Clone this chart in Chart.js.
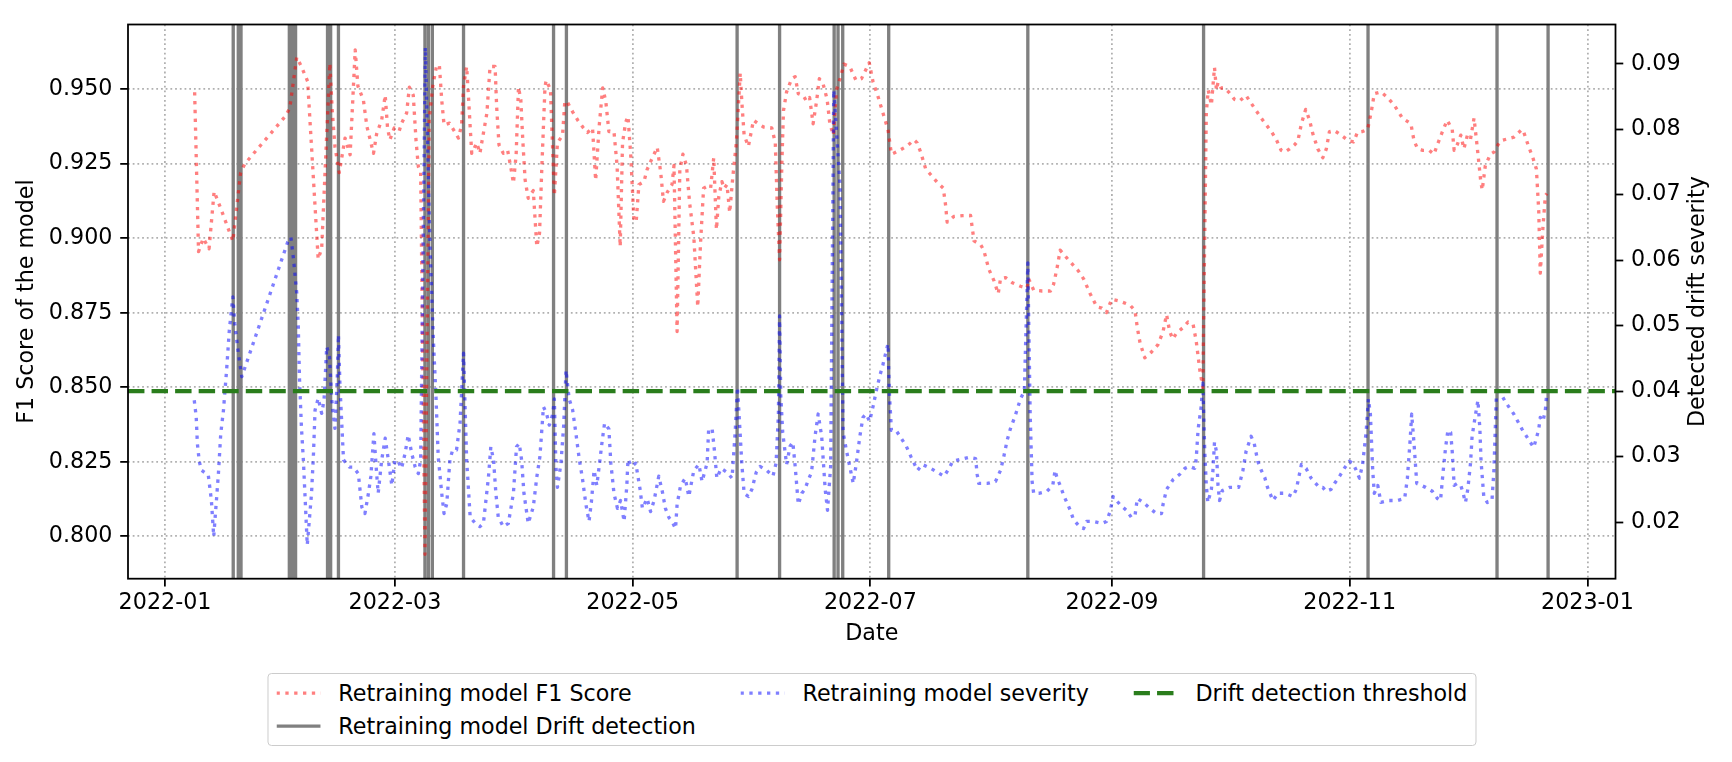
<!DOCTYPE html>
<html>
<head>
<meta charset="utf-8">
<script src="https://cdn.jsdelivr.net/npm/chart.js@4.4.0/dist/chart.umd.min.js"></script>
<style>
  body { margin: 0; background: #fff; }
  #wrap { position: relative; width: 1732px; height: 762px; font-family: 'DejaVu Sans', sans-serif; }
  #legend {
    position: absolute; top: 673px; left: 871.75px; transform: translateX(-50%);
    box-sizing: border-box; padding: 7.9px 7.9px 7.9px 7.9px;
    border: 1px solid #cccccc; border-radius: 4px; background: #fff;
    display: grid; grid-template-columns: repeat(3, auto); column-gap: 44.4px; row-gap: 11.1px;
    font-size: 22.2px; line-height: 22.2px; color: #000; white-space: nowrap;
  }
  #legend .item { display: flex; align-items: center; height: 22.2px; }
  #legend svg { flex: none; margin-right: 17.8px; }
</style>
</head>
<body>
<div id="wrap">
  <canvas id="chart" width="1732" height="762"></canvas>
  <div id="legend"></div>
</div>
<script>
// --- data (x = days since 2022-01-01) ---
const START = '2022-01-01';
const xTickLabels = ['2022-01', '2022-03', '2022-05', '2022-07', '2022-09', '2022-11', '2023-01'];
const f1Ticks = [0.800, 0.825, 0.850, 0.875, 0.900, 0.925, 0.950];
const sevTicks = [0.02, 0.03, 0.04, 0.05, 0.06, 0.07, 0.08, 0.09];
const threshold = 0.04;

// days where the retraining model flagged a drift
const driftDays = [17.5, 18.8, 19.5, 31.9, 32.7, 33.5, 41.7, 42.5, 44.5, 66.7, 67.6, 68.6, 76.6,
  99.7, 103.0, 146.8, 157.7, 171.7, 172.7, 173.9, 185.7, 221.4, 266.5, 308.7, 341.8, 354.9];

const f1Days = [7.6, 8.6, 9.8, 11.3, 12.6, 14.3, 16.0, 17.4, 19.4, 20.5, 30.8, 32.0, 33.8, 35.0, 36.6,
  39.3, 40.2, 42.3, 42.9, 43.6, 44.7, 46.2, 47.5, 48.8, 49.5, 50.9, 51.8, 53.5, 54.3, 55.6, 56.5,
  57.1, 57.7, 58.8, 60.1, 60.7, 62.0, 62.7, 63.7, 64.4, 65.0, 65.6, 66.7, 67.8, 68.7, 69.7, 70.4,
  71.0, 71.6, 73.0, 74.2, 75.3, 76.1, 76.6, 77.4, 77.8, 78.4, 78.7, 80.0, 80.8, 82.6, 83.4, 84.7,
  85.1, 85.7, 86.8, 87.9, 88.7, 89.4, 90.1, 90.7, 91.3, 91.8, 92.4, 93.2, 94.5, 95.4, 96.1, 96.7,
  97.5, 97.8, 98.9, 99.9, 100.7, 102.0, 102.6, 103.3, 104.6, 105.9, 107.2, 108.4, 109.7, 110.5,
  111.4, 112.3, 113.1, 113.9, 115.2, 116.0, 116.8, 117.4, 118.2, 118.8, 119.5, 120.3, 120.9, 121.6,
  122.9, 123.7, 124.6, 126.3, 127.2, 127.9, 128.9, 130.1, 130.6, 131.4, 132.1, 132.9, 133.8, 134.6,
  135.7, 136.7, 137.4, 138.2, 139.1, 140.0, 140.8, 141.5, 142.1, 142.9, 143.5, 144.2, 144.9, 145.7,
  146.6, 147.6, 148.0, 148.6, 149.7, 151.0, 152.3, 153.6, 155.7, 156.6, 157.1, 157.7, 158.3, 158.7,
  159.5, 160.8, 161.7, 162.5, 163.8, 164.6, 165.4, 166.3, 167.2, 167.9, 168.9, 169.9, 170.6, 171.5,
  172.3, 173.2, 174.2, 175.7, 177.3, 178.7, 180.7, 181.7, 182.9, 184.2, 185.5, 186.4, 187.6, 188.5,
  190.5, 192.2, 193.0, 193.9, 195.2, 196.5, 198.2, 199.7, 200.3, 200.7, 202.4, 204.6, 206.7, 207.6,
  209.3, 210.1, 211.4, 212.7, 213.8, 214.4, 215.7, 217.4, 219.5, 221.2, 221.6, 222.9, 225.0, 227.2,
  228.0, 228.9, 229.7, 231.4, 232.7, 234.4, 235.7, 237.4, 239.1, 240.4, 241.6, 242.9, 245.0, 247.6,
  248.9, 249.5, 250.2, 251.4, 253.1, 254.8, 256.1, 257.0, 257.8, 258.6, 259.5, 261.2, 262.5, 263.8,
  264.6, 265.5, 266.3, 267.2, 267.7, 268.5, 269.3, 269.8, 270.2, 271.0, 271.9, 273.2, 274.4, 275.7,
  277.4, 278.7, 280.0, 281.3, 282.6, 283.9, 285.2, 286.4, 287.3, 288.6, 289.9, 290.7, 291.6, 292.7,
  293.7, 294.5, 295.8, 297.1, 298.0, 298.8, 300.1, 301.8, 303.7, 305.0, 306.0, 307.3, 308.6, 309.5,
  310.3, 312.0, 313.7, 315.4, 317.5, 319.7, 320.5, 321.4, 322.7, 324.4, 325.6, 326.5, 327.8, 329.0,
  330.3, 330.8, 331.6, 332.5, 333.3, 334.2, 335.0, 335.9, 336.7, 337.6, 338.0, 338.8, 339.7, 340.1,
  341.0, 341.8, 342.7, 344.4, 346.1, 348.2, 348.6, 349.9, 351.0, 351.9, 352.5, 352.9, 353.6, 354.2,
  354.6];
const f1Values = [0.949, 0.8955, 0.900, 0.8965, 0.9157, 0.910, 0.904, 0.899, 0.922, 0.925, 0.9408, 0.9436, 0.9607, 0.9576, 0.9526,
  0.893, 0.8966, 0.9587, 0.943, 0.9308, 0.922, 0.9336, 0.928, 0.9632, 0.951, 0.9464, 0.9375, 0.9285, 0.935, 0.9397, 0.948,
  0.937, 0.933, 0.937, 0.936, 0.9386, 0.942, 0.9507, 0.948, 0.933, 0.924, 0.922, 0.794, 0.940, 0.951, 0.958, 0.958,
  0.9464, 0.938, 0.9386, 0.936, 0.9336, 0.938, 0.951, 0.9576, 0.949, 0.9352, 0.9285, 0.932, 0.9285, 0.942, 0.9576, 0.9576,
  0.944, 0.9313, 0.9285, 0.9296, 0.924, 0.9185, 0.928, 0.9507, 0.9464, 0.933, 0.9196, 0.9134, 0.916, 0.8972, 0.9017, 0.924,
  0.9507, 0.953, 0.950, 0.9143, 0.932, 0.9345, 0.946, 0.9455, 0.9424, 0.9396, 0.9373, 0.9355, 0.937, 0.9194,
  0.9375, 0.9504, 0.946, 0.9358, 0.9358, 0.9244, 0.8972, 0.932, 0.9389, 0.9409, 0.928, 0.9067, 0.9054, 0.918,
  0.919, 0.923, 0.9257, 0.9305, 0.922, 0.9124, 0.9155, 0.918, 0.9244, 0.8687, 0.923, 0.9282, 0.9245, 0.912,
  0.9003, 0.877, 0.898, 0.9168, 0.9174, 0.9168, 0.927, 0.9029, 0.914, 0.919, 0.9167, 0.918, 0.9086, 0.9206,
  0.932, 0.9554, 0.946, 0.9346, 0.9308, 0.9396, 0.9383, 0.9373, 0.937, 0.932, 0.911, 0.8928, 0.9258, 0.9428,
  0.9491, 0.9535, 0.9542, 0.9485, 0.9478, 0.946, 0.9472, 0.9384, 0.946, 0.9535, 0.9516, 0.9466, 0.9384, 0.9346,
  0.9497, 0.9535, 0.9584, 0.9576, 0.953, 0.9535, 0.9589, 0.9523, 0.9478, 0.9421, 0.9365, 0.9282, 0.9289, 0.9295,
  0.931, 0.933, 0.932, 0.9289, 0.9232, 0.9213, 0.9187, 0.9168, 0.9111, 0.9054, 0.9073, 0.9076, 0.9077, 0.8991,
  0.8978, 0.896, 0.8896, 0.8858, 0.8814, 0.8865, 0.8868, 0.8851, 0.8839, 0.8833, 0.8864, 0.8826, 0.8823, 0.8823,
  0.8845, 0.890, 0.896, 0.8934, 0.8915, 0.889, 0.8864, 0.8814, 0.877, 0.8766, 0.8751, 0.8795, 0.8789, 0.8776,
  0.8757, 0.870, 0.8649, 0.8599, 0.8618, 0.8643, 0.8687, 0.8744, 0.8687, 0.8662, 0.8681, 0.870, 0.8719, 0.8712,
  0.8656, 0.8561, 0.8498, 0.9422, 0.9497, 0.9447, 0.9573, 0.9497, 0.9523, 0.9504, 0.9504, 0.9487, 0.9466, 0.946,
  0.9479, 0.9453, 0.9428, 0.9403, 0.938, 0.9358, 0.933, 0.9295, 0.9289, 0.930, 0.9314, 0.9327, 0.9384, 0.9432,
  0.9396, 0.9352, 0.930, 0.927, 0.930, 0.9358, 0.9361, 0.9346, 0.9327, 0.9323, 0.9356, 0.9358, 0.9365, 0.9422,
  0.9485, 0.9491, 0.9472, 0.9447, 0.9403, 0.9384, 0.9327, 0.9301, 0.9295, 0.9295, 0.9282, 0.9314, 0.9358, 0.9396,
  0.9365, 0.9295, 0.9314, 0.9346, 0.930, 0.9346, 0.9333, 0.9403, 0.9308, 0.9194, 0.9162, 0.9244, 0.927, 0.9282,
  0.9289, 0.9308, 0.9327, 0.9333, 0.9339, 0.9365, 0.9358, 0.9308, 0.927, 0.9232, 0.9093, 0.8883, 0.9041, 0.9143,
  0.915];

const sevDays = [7.5, 8.0, 8.3, 8.8, 9.4, 11.1, 11.9, 12.5, 13.7, 14.3, 15.0, 15.8, 16.5, 17.4, 17.9, 18.8, 19.7,
  31.5, 32.3, 33.0, 33.8, 34.2, 34.5, 35.0, 35.5, 36.5, 37.6, 38.1, 38.5, 39.3, 40.2, 40.8, 41.5, 42.2,
  42.8, 43.6, 44.2, 44.5, 44.9, 45.8, 47.3, 48.3, 49.6, 50.5, 51.3, 52.2, 52.8, 53.6, 54.3, 54.7, 55.6,
  56.5, 57.3, 58.2, 59.0, 59.9, 60.7, 61.6, 62.4, 63.3, 64.2, 65.0, 65.6, 66.8, 68.0, 68.9, 69.5, 70.1,
  71.0, 71.6, 72.3, 73.1, 73.8, 74.8, 75.7, 76.6, 76.9, 77.4, 78.3, 79.6, 80.8, 81.7, 83.0, 83.6, 84.3,
  84.9, 85.5, 86.8, 88.1, 89.4, 90.2, 90.9, 91.5, 92.1, 93.2, 94.5, 95.4, 96.2, 97.1, 97.9, 98.6, 99.5,
  99.9, 100.3, 100.7, 101.6, 102.3, 102.9, 103.7, 104.6, 105.4, 106.3, 107.1, 108.0, 108.8, 109.4, 110.1,
  110.8, 111.4, 112.2, 112.8, 113.9, 114.4, 115.2, 116.1, 116.9, 117.8, 118.5, 118.8, 119.7, 120.8, 121.9,
  122.5, 123.7, 124.6, 125.5, 126.7, 127.6, 128.4, 129.3, 130.1, 131.0, 131.4, 132.3, 133.5, 134.4, 135.7,
  137.0, 137.8, 139.1, 139.5, 140.4, 141.0, 141.6, 142.7, 144.2, 145.5, 146.3, 146.9, 147.4, 148.0, 148.6,
  149.7, 150.6, 151.7, 152.7, 154.4, 156.0, 156.8, 157.4, 157.7, 158.0, 158.5, 159.5, 160.4, 161.1, 161.7,
  162.5, 163.4, 164.2, 165.1, 165.9, 166.8, 167.6, 168.5, 169.4, 170.0, 170.8, 171.6, 173.2, 174.0, 174.9,
  175.7, 176.6, 177.4, 178.3, 179.1, 179.9, 180.8, 181.7, 182.5, 183.4, 184.2, 185.5, 185.9, 186.4, 187.6,
  188.9, 190.2, 191.4, 192.2, 193.1, 194.3, 196.5, 198.2, 199.9, 201.2, 202.1, 204.2, 206.3, 208.0, 208.4,
  208.8, 211.0, 213.1, 214.4, 215.2, 216.1, 216.9, 218.2, 219.5, 220.5, 221.4, 222.0, 222.5, 222.9, 224.2,
  226.3, 227.8, 228.4, 228.9, 229.7, 230.6, 231.4, 232.3, 233.1, 234.4, 235.7, 236.5, 238.2, 240.4, 241.6,
  242.5, 243.3, 245.0, 246.7, 248.0, 248.9, 249.5, 251.0, 252.7, 254.4, 255.7, 256.1, 257.0, 258.7, 260.4,
  261.7, 262.9, 264.2, 264.6, 265.1, 265.9, 266.3, 266.8, 267.2, 267.6, 268.5, 268.9, 269.3, 269.8, 270.2,
  270.6, 271.3, 273.2, 275.5, 276.6, 277.4, 278.7, 279.5, 280.4, 281.3, 282.2, 282.9, 284.3, 285.6, 287.3,
  289.4, 290.3, 291.6, 292.8, 294.1, 296.2, 297.1, 297.9, 299.2, 300.1, 301.4, 302.6, 303.9, 304.8, 305.6,
  306.5, 307.3, 308.2, 308.8, 309.3, 309.9, 310.3, 311.2, 312.0, 314.1, 316.3, 318.1, 318.8, 319.5, 319.9,
  320.5, 321.2, 323.5, 325.2, 326.5, 327.3, 328.0, 328.6, 329.2, 329.9, 330.3, 330.8, 331.6, 332.5, 333.1,
  333.7, 334.3, 335.0, 335.4, 336.3, 336.9, 337.4, 337.7, 338.4, 339.3, 340.5, 341.0, 341.7, 342.7, 344.0,
  346.1, 348.2, 350.0, 351.2, 351.9, 352.5, 352.9, 353.6, 354.2, 354.6];
const sevValues = [0.0386, 0.0361, 0.032, 0.0292, 0.0279, 0.0272, 0.0233, 0.0178, 0.0274, 0.0335, 0.0371, 0.0432, 0.0493, 0.0544, 0.0503, 0.0458, 0.0422,
  0.0628, 0.0635, 0.060, 0.055, 0.0498, 0.042, 0.0345, 0.0295, 0.0165, 0.0244, 0.0305, 0.0371, 0.0389, 0.0366, 0.0386, 0.0468, 0.0452,
  0.0386, 0.0343, 0.042, 0.0486, 0.0407, 0.0295, 0.0284, 0.0284, 0.0274, 0.0223, 0.0213, 0.0244, 0.0269, 0.0335, 0.0274, 0.0244, 0.0295,
  0.0328, 0.0295, 0.0256, 0.0295, 0.0292, 0.0282, 0.0305, 0.0333, 0.0305, 0.0284, 0.0274, 0.0295, 0.0925, 0.062, 0.0473, 0.0396, 0.030,
  0.0244, 0.0213, 0.0228, 0.0295, 0.031, 0.031, 0.0351, 0.0458, 0.0396, 0.0295, 0.0208, 0.0198, 0.0193, 0.0198, 0.0269, 0.0315, 0.0295,
  0.0244, 0.0208, 0.0193, 0.0198, 0.0244, 0.0315, 0.032, 0.0295, 0.0244, 0.0198, 0.0223, 0.0269, 0.030, 0.0376, 0.0366, 0.0348, 0.0365,
  0.0388, 0.0285, 0.0253, 0.029, 0.0348, 0.0432, 0.0388, 0.0371, 0.0337, 0.0296, 0.0267, 0.0227, 0.0201, 0.023, 0.0279,
  0.0256, 0.0285, 0.0325, 0.0351, 0.0342, 0.029, 0.0244, 0.0221, 0.0233, 0.0201, 0.0256, 0.0296, 0.0285, 0.029, 0.025,
  0.0221, 0.0236, 0.0216, 0.0233, 0.027, 0.0247, 0.0221, 0.0207, 0.0201, 0.019, 0.0227, 0.0256, 0.0267, 0.0239, 0.0279,
  0.0288, 0.0262, 0.029, 0.0342, 0.0342, 0.0308, 0.0267, 0.0282, 0.0276, 0.0267, 0.0337, 0.0406, 0.0354, 0.029, 0.0244,
  0.0239, 0.025, 0.0276, 0.0285, 0.0279, 0.027, 0.029, 0.0365, 0.0515, 0.0394, 0.0337, 0.0288, 0.0316, 0.0322, 0.0285,
  0.0227, 0.0244, 0.025, 0.0265, 0.0276, 0.0331, 0.0365, 0.0331, 0.025, 0.0218, 0.0285, 0.086, 0.0715, 0.0337, 0.0308,
  0.0285, 0.0259, 0.029, 0.0331, 0.036, 0.0365, 0.0354, 0.0377, 0.040, 0.0423, 0.044, 0.0472, 0.0394, 0.034, 0.034,
  0.0328, 0.0316, 0.030, 0.029, 0.0279, 0.0288, 0.0282, 0.0276, 0.027, 0.0282, 0.0293, 0.0296, 0.0299, 0.0297, 0.0273,
  0.0259, 0.0259, 0.0262, 0.0279, 0.0299, 0.0325, 0.0342, 0.0363, 0.0388, 0.040, 0.0596, 0.0365, 0.0262, 0.0244, 0.0244,
  0.0247, 0.0256, 0.0279, 0.0267, 0.0256, 0.0241, 0.023, 0.0218, 0.0204, 0.0195, 0.019, 0.0201, 0.0201, 0.0198, 0.0201,
  0.0216, 0.0239, 0.0227, 0.0218, 0.0207, 0.021, 0.0236, 0.023, 0.0221, 0.0213, 0.0213, 0.0227, 0.025, 0.0265, 0.0273,
  0.0282, 0.0285, 0.0282, 0.0296, 0.0342, 0.0377, 0.0412, 0.0308, 0.0256, 0.023, 0.025, 0.0279, 0.0322, 0.0308, 0.0256,
  0.0233, 0.0248, 0.0253, 0.0253, 0.0279, 0.0308, 0.0331, 0.032, 0.0293, 0.0279, 0.0268, 0.0253, 0.0233, 0.0244, 0.0244,
  0.0239, 0.025, 0.0288, 0.0282, 0.0267, 0.0253, 0.0253, 0.0247, 0.025, 0.0259, 0.027, 0.0282, 0.0293, 0.029, 0.028,
  0.0267, 0.0288, 0.0337, 0.0388, 0.0365, 0.0279, 0.0244, 0.0256, 0.023, 0.0233, 0.0233, 0.0236, 0.0267, 0.0325, 0.0365,
  0.032, 0.0259, 0.0253, 0.0247, 0.0236, 0.0233, 0.0279, 0.0314, 0.034, 0.0337, 0.0308, 0.0256, 0.0259, 0.0256, 0.0244,
  0.023, 0.025, 0.029, 0.0331, 0.0365, 0.0386, 0.0342, 0.0293, 0.0239, 0.023, 0.0233, 0.0279, 0.0406, 0.0397, 0.0383,
  0.0365, 0.0342, 0.0325, 0.0314, 0.0328, 0.0342, 0.036, 0.0354, 0.0371, 0.040];

// --- look (figure was made at 160 dpi: 1 pt = 2.22 px) ---
const PT = 160 / 72;
const FONT = 10 * PT;
const RED = 'rgba(255, 0, 0, 0.5)';
const BLUE = 'rgba(0, 0, 255, 0.5)';
const GREEN = '#2a7d1c';
const GRAY = '#808080';
const LW = 1.5 * PT;
const DOTTED = [1.5 * PT, 2.475 * PT];
const DASHED = [7.4 * PT, 3.2 * PT];

const X_MIN = -9.5, X_MAX = 372.2;
const F1_MIN = 0.7858, F1_MAX = 0.9717;
const SEV_MIN = 0.01135, SEV_MAX = 0.0960;

const dayOf = s => (Date.parse(s + '-01') - Date.parse(START)) / 86400000;
const xTickDays = xTickLabels.map(dayOf);

const f1Points = f1Days.map((d, i) => ({ x: d, y: f1Values[i] }));
const sevPoints = sevDays.map((d, i) => ({ x: d, y: sevValues[i] }));
// each drift is a vertical segment across the whole axis, broken by a null point
const driftPoints = [];
driftDays.forEach(d => {
  driftPoints.push({ x: d, y: F1_MIN - 1 }, { x: d, y: F1_MAX + 1 }, { x: d, y: null });
});

Chart.defaults.font.family = "'DejaVu Sans', sans-serif";
Chart.defaults.font.size = FONT;
Chart.defaults.color = '#000';

const gridDots = { dash: [0.8 * PT, 1.32 * PT], display: false };
const tickOpts = { tickLength: 3.5 * PT, tickColor: '#000', tickWidth: 0.8 * PT, tickBorderDash: [] };

// frame on all four sides + right hand axis label read bottom to top
const framePlugin = {
  id: 'frame',
  afterDraw(chart) {
    const { ctx, chartArea: a } = chart;
    ctx.save();
    ctx.strokeStyle = '#000';
    ctx.lineWidth = 0.8 * PT;
    ctx.strokeRect(a.left, a.top, a.right - a.left, a.bottom - a.top);
    const s = chart.scales.y1;
    ctx.translate(s.left + 83, (a.top + a.bottom) / 2);
    ctx.rotate(-Math.PI / 2);
    ctx.font = FONT + "px 'DejaVu Sans', sans-serif";
    ctx.fillStyle = '#000';
    ctx.textAlign = 'center';
    ctx.textBaseline = 'middle';
    ctx.fillText('Detected drift severity', 0, 0);
    ctx.restore();
  }
};

const chart = new Chart(document.getElementById('chart'), {
  type: 'line',
  data: {
    datasets: [
      {
        label: 'Drift detection threshold',
        data: [{ x: X_MIN, y: threshold }, { x: X_MAX, y: threshold }],
        yAxisID: 'y1',
        borderColor: GREEN,
        borderWidth: 2 * PT,
        borderDash: DASHED,
        order: 0
      },
      {
        label: 'Retraining model severity',
        data: sevPoints,
        yAxisID: 'y1',
        borderColor: BLUE,
        borderWidth: LW,
        borderDash: DOTTED,
        order: 1
      },
      {
        label: 'Retraining model F1 Score',
        data: f1Points,
        yAxisID: 'y',
        borderColor: RED,
        borderWidth: LW,
        borderDash: DOTTED,
        order: 2
      },
      {
        label: 'Retraining model Drift detection',
        data: driftPoints,
        yAxisID: 'y',
        borderColor: GRAY,
        borderWidth: LW,
        spanGaps: false,
        order: 3
      }
    ]
  },
  options: {
    responsive: false,
    animation: false,
    events: [],
    layout: { padding: { top: 24.5, left: 0, right: 0, bottom: 0 } },
    elements: {
      point: { radius: 0 },
      line: { tension: 0, borderCapStyle: 'butt', borderJoinStyle: 'round', fill: false }
    },
    plugins: { legend: { display: false }, tooltip: { enabled: false } },
    scales: {
      x: {
        type: 'linear',
        min: X_MIN,
        max: X_MAX,
        afterFit: s => { s.height = 183.3; },
        afterBuildTicks: s => { s.ticks = xTickDays.map(v => ({ value: v })); },
        ticks: { autoSkip: false, maxRotation: 0, padding: 3.7, callback: (v, i) => xTickLabels[i] },
        grid: { color: '#b0b0b0', lineWidth: 0.8 * PT, ...tickOpts },
        border: gridDots,
        title: { display: true, text: 'Date', padding: { top: 0, bottom: 114.7 } }
      },
      y: {
        position: 'left',
        min: F1_MIN,
        max: F1_MAX,
        afterFit: s => { s.width = 128; },
        afterBuildTicks: s => { s.ticks = f1Ticks.map(v => ({ value: v })); },
        ticks: { padding: 3.5 * PT, callback: v => v.toFixed(3) },
        grid: { color: '#b0b0b0', lineWidth: 0.8 * PT, ...tickOpts },
        border: gridDots,
        title: { display: true, text: 'F1 Score of the model', padding: { top: 13.8, bottom: 0 } }
      },
      y1: {
        position: 'right',
        min: SEV_MIN,
        max: SEV_MAX,
        afterFit: s => { s.width = 116.5; },
        afterBuildTicks: s => { s.ticks = sevTicks.map(v => ({ value: v })); },
        ticks: { padding: 3.5 * PT, callback: v => v.toFixed(2) },
        grid: { drawOnChartArea: false, ...tickOpts },
        border: { display: false }
      }
    }
  },
  plugins: [framePlugin]
});

// legend box laid out like the original (three columns, drift detection on the second row)
const sample = ds => {
  const dash = ds.borderDash ? ds.borderDash.join(' ') : 'none';
  return `<svg width="${2 * FONT}" height="${FONT}"><line x1="0" y1="${FONT / 2}" x2="${2 * FONT}" y2="${FONT / 2}"
    stroke="${ds.borderColor}" stroke-width="${ds.borderWidth}" stroke-dasharray="${dash}"/></svg>`;
};
const legendOrder = [2, 1, 0, 3];
document.getElementById('legend').innerHTML = legendOrder.map(i => {
  const ds = chart.data.datasets[i];
  return `<div class="item">${sample(ds)}<span>${ds.label}</span></div>`;
}).join('');
</script>
</body>
</html>
